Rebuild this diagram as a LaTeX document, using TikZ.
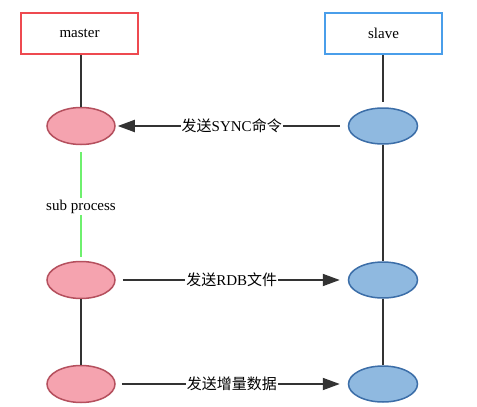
\documentclass[tikz,border=0pt]{standalone}
\usepackage{fontspec}
\setmainfont{Liberation Serif}
\newfontfamily\cjk{Noto Sans CJK SC}
\usetikzlibrary{arrows.meta,shapes.geometric}
\definecolor{mred}{HTML}{EE4A50}
\definecolor{sblue}{HTML}{4A9EEA}
\definecolor{pinkfill}{HTML}{F5A3AF}
\definecolor{pinkdraw}{HTML}{B5505E}
\definecolor{bluefill}{HTML}{8FB9E0}
\definecolor{bluedraw}{HTML}{3C6EA8}
\definecolor{linec}{HTML}{333333}
\definecolor{greenc}{HTML}{6EF06E}
\begin{document}
\begin{tikzpicture}[x=1pt,y=-1pt,
  every node/.style={font=\fontsize{15}{18}\selectfont},
  rolebox/.style={draw, line width=1.8pt, fill=white, minimum width=117pt, minimum height=41pt, inner sep=0pt},
  mell/.style={ellipse, draw=pinkdraw, fill=pinkfill, line width=1.5pt, minimum width=68pt, minimum height=37pt, inner sep=0pt},
  sell/.style={ellipse, draw=bluedraw, fill=bluefill, line width=1.5pt, minimum width=69pt, minimum height=36pt, inner sep=0pt},
  vline/.style={draw=linec, line width=2pt},
  msg/.style={draw=linec, line width=1.8pt, -{Triangle[length=17pt,width=12pt]}},
  lab/.style={fill=white, inner sep=1pt, font=\fontsize{15}{18}\selectfont\cjk}
]
\useasboundingbox (0,0) rectangle (477,407);
\fill[white] (0,0) rectangle (477,407);
\node[rolebox, draw=mred] (master) at (79.5,33.5) {master};
\node[rolebox, draw=sblue] (slave) at (383.5,33.5) {slave};
\node[mell] (m1) at (81,126) {};
\node[mell] (m2) at (81,280) {};
\node[mell] (m3) at (81,384) {};
\node[sell] (s1) at (383,126) {};
\node[sell] (s2) at (383,280) {};
\node[sell] (s3) at (383,384) {};
% lifelines
\draw[vline] (master.south -| m1) -- (m1.north);
\draw[vline, shorten >=5pt] (slave.south -| s1) -- (s1.north);
\draw[vline] (s1.south) -- (s2.north);
\draw[vline] (m2.south) -- (m3.north);
\draw[vline] (s2.south) -- (s3.north);
\draw[draw=greenc, line width=2pt, shorten <=7pt, shorten >=4pt] (m1.south) -- node[pos=0.53, fill=white, inner sep=2pt, font=\fontsize{15}{18}\selectfont] {sub process} (m2.north);
% messages
\draw[msg, shorten <=8pt, shorten >=2pt] (s1.west) -- node[lab] {发送\textrm{SYNC}命令} (m1.east);
\draw[msg, shorten <=7pt, shorten >=8pt] (m2.east) -- node[lab] {发送\textrm{RDB}文件} (s2.west);
\draw[msg, shorten <=6pt, shorten >=8pt] (m3.east) -- node[lab] {发送增量数据} (s3.west);
\end{tikzpicture}
\end{document}
